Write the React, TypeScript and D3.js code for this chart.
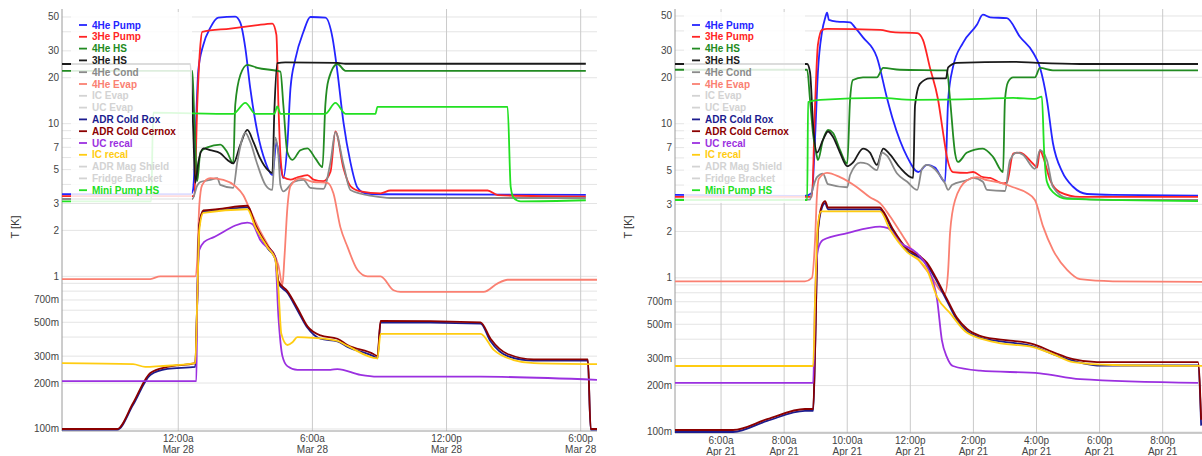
import React from "react";
import * as d3 from "d3";

// [hours from midnight of the labelled day, temperature in K]
type Pt = [number, number];

const seriesNames = [
  "4He Pump", "3He Pump", "4He HS", "3He HS", "4He Cond", "4He Evap", "IC Evap", "UC Evap",
  "ADR Cold Rox", "ADR Cold Cernox", "UC recal", "IC recal", "ADR Mag Shield", "Fridge Bracket", "Mini Pump HS",
];
const seriesColors = [
  "#2424ff", "#ff2424", "#228b22", "#1a1a1a", "#8a8a8a", "#fa8072", "#d3d3d3", "#d3d3d3",
  "#1c1c8f", "#8b0000", "#9b30e0", "#ffcc11", "#d3d3d3", "#d3d3d3", "#22e022",
];

const yTickValues = [0.1, 0.2, 0.3, 0.5, 0.7, 1, 2, 3, 5, 7, 10, 20, 30, 50];
const marTickHours = [0, 6, 12, 18];
const aprTickHours = [6, 8, 10, 12, 14, 16, 18, 20];

// ---- Mar 28 ----
const mar_pump4He: Pt[] = [[-5.2,3.45],[0.54,3.45],[0.66,3.68],[0.9,22.5],[1.12,32.8],[1.43,42.4],[1.79,49.5],[2.55,50.3],[2.78,45.7],[3.0,31.3],[3.22,17.1],[3.54,8.8],[3.9,5.6],[4.21,4.6],[4.39,7.5],[4.57,5.4],[4.7,4.4],[4.88,7.3],[5.02,17.1],[5.24,26.6],[5.6,40],[5.91,50],[6.58,49.5],[6.9,36.5],[7.12,21.8],[7.39,10.2],[7.7,5.6],[8.02,3.8],[8.37,3.5],[8.91,3.45],[18.23,3.42]];
const mar_pump3He: Pt[] = [[-5.2,3.35],[0.72,3.35],[0.85,13.3],[0.99,32.8],[1.07,40],[2.33,42],[3.45,44],[4.21,45.3],[4.39,38.2],[4.48,13.3],[4.57,6.2],[4.7,4.45],[5.02,4.3],[5.33,4.45],[5.78,4.6],[6.05,4.3],[6.49,4.2],[6.81,4.85],[7.03,8.9],[7.39,5.1],[7.7,3.9],[8.15,3.6],[9.05,3.5],[9.49,3.65],[13.84,3.65],[14.29,3.4],[18.23,3.33]];
const mar_hs4He: Pt[] = [[-5.2,22.2],[0.63,22.2],[0.72,10.6],[0.85,4.2],[0.99,6.5],[1.3,7.0],[1.88,7.3],[2.19,6.5],[2.46,5.5],[2.55,13.3],[2.78,20.9],[3.09,24.3],[3.54,23.2],[4.57,21.9],[4.7,13.3],[4.88,6.5],[5.11,5.8],[5.46,6.7],[5.78,6.9],[6.14,5.9],[6.45,5.2],[6.58,13.3],[6.72,19.4],[7.12,24.6],[7.48,22.2],[18.23,22.2]];
const mar_hs3He: Pt[] = [[-5.2,24.6],[0.54,24.6],[0.67,9.1],[0.76,4.1],[0.9,5.6],[1.12,6.9],[1.43,6.7],[1.88,6.4],[2.19,5.8],[2.46,5.5],[2.78,7.3],[3.09,9.1],[3.36,7.6],[3.67,5.9],[3.99,5.0],[4.21,4.75],[4.3,12.3],[4.43,24.9],[4.79,25.2],[7.12,25.0],[7.48,24.7],[18.23,24.7]];
const mar_cond4He: Pt[] = [[-5.2,3.21],[0.63,3.21],[0.85,3.94],[0.99,4.15],[1.43,4.28],[1.75,4.4],[1.88,3.97],[2.46,3.8],[2.64,5.6],[3.0,8.7],[3.22,7.6],[3.54,5.4],[3.9,3.97],[4.21,3.68],[4.34,8.1],[4.48,6.2],[4.57,3.97],[4.7,3.6],[5.15,4.15],[5.6,4.28],[5.91,3.8],[6.49,3.74],[6.81,5.6],[7.03,8.8],[7.39,5.4],[7.7,3.68],[8.73,3.35],[9.49,3.26],[18.23,3.26]];
const mar_evap4He: Pt[] = [[-5.2,0.96],[-1.25,0.96],[-0.81,1.0],[0.76,1.0],[0.85,1.28],[0.94,2.9],[1.07,3.97],[1.43,4.4],[2.02,4.28],[2.55,3.9],[2.91,3.4],[3.22,2.7],[3.67,1.97],[4.12,1.5],[4.48,1.18],[4.66,0.88],[4.75,1.33],[4.88,2.8],[5.02,3.9],[5.46,4.4],[6.05,4.15],[6.67,4.1],[6.94,3.5],[7.25,2.1],[7.57,1.56],[8.02,1.1],[8.46,1.0],[9.05,1.0],[9.63,0.81],[9.94,0.79],[13.66,0.79],[14.29,0.9],[14.73,0.95],[18.73,0.95]];
const mar_rox: Pt[] = [[-5.2,0.099],[-2.73,0.099],[-2.02,0.144],[-1.25,0.226],[-0.49,0.248],[0.76,0.255],[0.85,0.7],[0.94,2.15],[1.12,2.65],[1.75,2.7],[3.09,2.83],[3.45,2.14],[3.99,1.53],[4.34,1.3],[4.48,0.9],[4.88,0.78],[5.33,0.6],[5.78,0.46],[6.36,0.39],[7.12,0.375],[7.57,0.345],[8.73,0.3],[8.91,0.29],[9.05,0.5],[13.52,0.49],[13.97,0.375],[14.73,0.3],[15.9,0.28],[18.32,0.28],[18.45,0.099],[18.73,0.099]];
const mar_cernox: Pt[] = [[-5.2,0.1],[-2.73,0.1],[-2.02,0.148],[-1.25,0.233],[-0.49,0.255],[0.76,0.27],[0.85,0.7],[0.94,2.17],[1.12,2.7],[1.75,2.75],[3.09,2.9],[3.45,2.17],[3.99,1.58],[4.34,1.34],[4.48,0.93],[4.88,0.8],[5.33,0.62],[5.78,0.47],[6.36,0.41],[7.12,0.39],[7.57,0.355],[8.73,0.31],[8.91,0.3],[9.05,0.51],[13.52,0.5],[13.97,0.39],[14.73,0.31],[15.9,0.286],[18.32,0.286],[18.45,0.1],[18.73,0.1]];
const mar_ucRecal: Pt[] = [[-5.2,0.206],[0.81,0.206],[0.85,0.7],[0.94,1.49],[1.16,1.68],[1.57,1.8],[3.09,2.25],[3.31,2.2],[3.67,1.73],[4.34,1.32],[4.48,0.545],[4.66,0.3],[4.88,0.258],[5.33,0.244],[6.81,0.244],[7.12,0.247],[8.15,0.226],[8.91,0.22],[13.52,0.22],[18.73,0.21]];
const mar_icRecal: Pt[] = [[-5.2,0.27],[-2.02,0.266],[-1.48,0.255],[-0.81,0.258],[0.76,0.27],[0.85,0.7],[0.94,2.0],[1.12,2.6],[3.09,2.75],[3.45,2.1],[3.99,1.55],[4.34,1.29],[4.48,0.82],[4.61,0.42],[4.88,0.355],[5.11,0.37],[5.33,0.4],[6.05,0.395],[7.12,0.377],[7.57,0.35],[8.91,0.29],[9.05,0.42],[13.52,0.42],[14.11,0.33],[15.0,0.283],[15.9,0.27],[18.73,0.266]];
const mar_miniPump: Pt[] = [[-5.2,3.1],[-1.21,3.1],[-1.12,11.8],[2.46,11.6],[3.0,13.7],[3.45,11.6],[4.3,11.6],[4.43,13.0],[4.57,11.6],[6.58,11.6],[7.03,13.7],[7.48,11.6],[8.82,11.6],[8.91,12.9],[14.73,12.9],[14.87,3.85],[15.0,3.27],[15.32,3.1],[18.23,3.15]];

// ---- Apr 21 ----
const apr_pump4He: Pt[] = [[4.54,3.45],[8.66,3.4],[8.88,3.55],[8.98,8.1],[9.07,21.6],[9.2,39.4],[9.3,48.6],[9.36,52.5],[9.42,47.2],[9.68,46],[10.09,45.5],[10.25,42],[10.5,36.3],[10.94,27],[11.26,14.7],[11.45,10.6],[11.9,6.1],[12.25,4.86],[12.53,5.4],[12.78,5.2],[13.1,4.2],[13.2,14.3],[13.35,23.2],[13.67,33.5],[14.11,43.8],[14.3,51],[14.53,49],[15.06,48.4],[15.48,36.5],[15.89,29],[16.11,23.2],[16.33,14.3],[16.52,7.5],[16.81,4.9],[17.16,3.9],[17.6,3.5],[18.42,3.45],[21.12,3.42]];
const apr_pump3He: Pt[] = [[4.54,3.35],[8.88,3.35],[8.98,13.2],[9.07,32.5],[9.2,40.6],[9.36,41.2],[11.04,40.6],[11.45,39.3],[12.22,38.7],[12.4,35],[12.62,23.2],[12.88,14.3],[13.04,8.7],[13.16,6.1],[13.35,4.86],[13.8,4.8],[13.99,4.86],[14.3,4.5],[14.53,4.45],[14.94,4.1],[15.06,4.15],[15.26,6.4],[15.48,6.5],[15.89,5.5],[16.02,5.2],[16.11,6.75],[16.21,6.1],[16.43,4.32],[16.74,3.6],[17.38,3.35],[21.12,3.35]];
const apr_hs4He: Pt[] = [[4.54,22.4],[8.73,22.4],[8.82,14.3],[8.92,8.46],[9.04,6.1],[9.07,5.8],[9.23,7.85],[9.39,9.12],[9.55,8.7],[9.77,6.76],[10.0,5.5],[10.09,14.3],[10.18,19.2],[10.5,20],[10.94,20],[11.14,23],[11.67,22.4],[13.16,22.2],[13.26,14.3],[13.42,6.4],[13.51,5.65],[13.8,6.5],[14.3,6.9],[14.62,6.1],[14.94,4.86],[15.0,14.3],[15.1,18.7],[15.26,20],[15.95,20],[16.11,23],[16.52,22.2],[21.12,22.2]];
const apr_hs3He: Pt[] = [[4.54,24.4],[8.73,24.4],[8.82,21.6],[8.92,9.7],[9.04,6.5],[9.23,7.85],[9.39,8.9],[9.55,8.2],[9.77,6.5],[10.0,5.3],[10.18,5.6],[10.5,6.9],[10.72,6.5],[10.94,5.4],[11.14,6.9],[11.36,6.3],[11.67,5.2],[12.09,4.45],[12.15,13.2],[12.31,18.2],[12.62,19.7],[13.13,19.7],[13.2,23.2],[13.48,24.8],[15.26,25.2],[16.02,24.8],[17.38,24.4],[21.12,24.4]];
const apr_cond4He: Pt[] = [[4.54,3.22],[8.82,3.22],[8.88,3.6],[9.04,4.5],[9.23,4.75],[9.39,4.05],[10.0,3.87],[10.09,4.65],[10.41,5.6],[10.63,5.5],[10.94,5.0],[11.1,6.5],[11.26,6.2],[11.58,4.75],[11.9,4.2],[12.22,3.72],[12.37,5.1],[12.53,5.4],[12.88,4.8],[13.1,4.1],[13.2,3.72],[13.32,4.0],[13.8,4.3],[13.99,4.45],[14.3,4.2],[14.43,3.72],[15.0,3.66],[15.16,5.8],[15.38,6.5],[15.57,6.3],[15.95,5.1],[16.11,6.75],[16.33,5.8],[16.52,3.9],[16.97,3.3],[18.42,3.2],[21.12,3.2]];
const apr_evap4He: Pt[] = [[4.54,0.95],[8.66,0.95],[8.88,1.0],[8.98,1.76],[9.04,3.45],[9.1,4.4],[9.36,4.8],[9.77,4.5],[10.31,3.87],[10.72,3.33],[11.04,3.05],[11.36,2.5],[11.67,2.0],[12.15,1.41],[12.62,1.05],[13.1,0.79],[13.2,1.125],[13.26,1.97],[13.42,3.2],[13.8,4.3],[14.11,4.5],[14.43,4.3],[14.84,4.15],[15.26,3.87],[15.7,3.55],[15.95,3.2],[16.21,2.15],[16.52,1.52],[16.97,1.125],[17.38,0.98],[18.42,0.95],[21.5,0.94]];
const apr_rox: Pt[] = [[4.54,0.1],[6.38,0.1],[7.46,0.118],[8.66,0.137],[8.92,0.137],[8.98,0.33],[9.07,1.99],[9.2,2.86],[9.3,3.05],[9.39,2.78],[11.04,2.78],[11.14,2.63],[11.45,2.0],[11.9,1.49],[12.31,1.35],[12.53,1.21],[12.78,1.0],[13.16,0.71],[13.48,0.533],[13.8,0.45],[14.21,0.41],[14.75,0.39],[15.26,0.378],[15.89,0.36],[16.52,0.32],[17.16,0.29],[17.92,0.27],[21.12,0.27],[21.22,0.11]];
const apr_cernox: Pt[] = [[4.54,0.103],[6.38,0.103],[7.46,0.121],[8.66,0.141],[8.92,0.141],[8.98,0.34],[9.07,2.05],[9.2,2.97],[9.3,3.15],[9.39,2.86],[11.04,2.86],[11.14,2.7],[11.45,2.07],[11.9,1.54],[12.31,1.38],[12.53,1.25],[12.78,1.03],[13.16,0.73],[13.48,0.55],[13.8,0.466],[14.21,0.42],[14.75,0.4],[15.26,0.39],[15.89,0.372],[16.52,0.33],[17.16,0.297],[17.92,0.284],[21.12,0.284],[21.22,0.12]];
const apr_ucRecal: Pt[] = [[4.54,0.208],[8.92,0.208],[8.98,0.72],[9.07,1.52],[9.23,1.76],[10.0,1.95],[11.04,2.15],[11.29,2.1],[11.67,1.7],[12.22,1.44],[12.53,1.18],[12.85,0.72],[13.0,0.395],[13.16,0.306],[13.35,0.268],[14.21,0.25],[16.11,0.24],[17.38,0.22],[21.12,0.208]];
const apr_icRecal: Pt[] = [[4.54,0.268],[8.92,0.268],[8.98,0.72],[9.07,2.2],[9.17,2.7],[11.04,2.7],[11.36,2.05],[11.9,1.47],[12.31,1.28],[12.53,1.125],[12.85,0.75],[13.26,0.59],[13.8,0.44],[14.75,0.38],[15.89,0.355],[16.52,0.32],[17.16,0.284],[18.42,0.272],[21.5,0.268]];
const apr_miniPump: Pt[] = [[4.54,3.2],[8.73,3.2],[8.76,13.8],[9.14,14.3],[11.04,14.7],[12.09,14.3],[14.21,14.5],[15.26,14.7],[15.95,14.5],[16.17,15.0],[16.24,6.76],[16.33,4.2],[16.52,3.6],[16.97,3.25],[21.12,3.15]];

const marData: Record<string, Pt[]> = {
  "4He Pump": mar_pump4He, "3He Pump": mar_pump3He, "4He HS": mar_hs4He, "3He HS": mar_hs3He,
  "4He Cond": mar_cond4He, "4He Evap": mar_evap4He, "ADR Cold Rox": mar_rox, "ADR Cold Cernox": mar_cernox,
  "UC recal": mar_ucRecal, "IC recal": mar_icRecal, "Mini Pump HS": mar_miniPump,
};
const aprData: Record<string, Pt[]> = {
  "4He Pump": apr_pump4He, "3He Pump": apr_pump3He, "4He HS": apr_hs4He, "3He HS": apr_hs3He,
  "4He Cond": apr_cond4He, "4He Evap": apr_evap4He, "ADR Cold Rox": apr_rox, "ADR Cold Cernox": apr_cernox,
  "UC recal": apr_ucRecal, "IC recal": apr_icRecal, "Mini Pump HS": apr_miniPump,
};

const FONT = "'Liberation Sans', Arial, Helvetica, sans-serif";

const fmtDay = d3.timeFormat("%b %-d");
const fmtTime = (d: Date) => {
  const h = d.getHours();
  const h12 = h % 12 === 0 ? 12 : h % 12;
  return `${h12}:${d3.timeFormat("%M")(d)}${h < 12 ? "a" : "p"}`;
};
const fmtY = (v: number) => (v < 1 ? `${Math.round(v * 1000)}m` : `${v}`);

function Panel({ id, day, hourDomain, xRange, yDomain, yRange, tickHours, data, labelShift }: any) {
  const t0 = day.getTime();
  const toDate = (h: number) => new Date(t0 + h * 3600000);
  const x = d3.scaleTime().domain(hourDomain.map(toDate)).range(xRange);
  const y = d3.scaleLog().domain(yDomain).range(yRange);
  const line = d3
    .line<Pt>()
    .x((d) => x(toDate(d[0])))
    .y((d) => y(d[1]))
    .curve(d3.curveMonotoneX);

  const [x0, x1] = xRange;
  const [yb, yt] = yRange;
  const gridVals = y.ticks();
  const legX = x0 + 9;

  return (
    <g>
      <defs>
        <clipPath id={id}>
          <rect x={x0} y={yt} width={x1 - x0} height={yb - yt} />
        </clipPath>
      </defs>
      {/* horizontal grid */}
      {gridVals.map((v) => (
        <line key={"h" + v} x1={x0} x2={x1} y1={y(v)} y2={y(v)} stroke="#e4e4e4" strokeWidth={1} />
      ))}
      {/* vertical grid */}
      {tickHours.map((h: number) => (
        <line key={"v" + h} x1={x(toDate(h))} x2={x(toDate(h))} y1={yt} y2={yb} stroke="#cacaca" strokeWidth={1} />
      ))}
      {/* axes */}
      <line x1={x0} x2={x0} y1={yt} y2={yb} stroke="#9a9a9a" strokeWidth={1} />
      <line x1={x0} x2={x1} y1={yb} y2={yb} stroke="#9a9a9a" strokeWidth={1} />

      {/* series */}
      <g clipPath={`url(#${id})`}>
        {seriesNames.map((name, i) =>
          data[name] ? (
            <path key={name} d={line(data[name]) || ""} fill="none" stroke={seriesColors[i]} strokeWidth={1.8} />
          ) : null
        )}
      </g>

      {/* y tick labels */}
      {yTickValues.map((v) => (
        <text key={"yl" + v} x={x0 - 3} y={y(v)} dy="0.35em" textAnchor="end" fontSize={10} fill="#444" fontFamily={FONT}>
          {fmtY(v)}
        </text>
      ))}
      {/* x tick labels */}
      {tickHours.map((h: number) => (
        <g key={"xl" + h}>
          <text x={x(toDate(h))} y={442 + labelShift} textAnchor="middle" fontSize={10} fill="#444" fontFamily={FONT}>
            {fmtTime(toDate(h))}
          </text>
          <text x={x(toDate(h))} y={453 + labelShift} textAnchor="middle" fontSize={10} fill="#444" fontFamily={FONT}>
            {fmtDay(toDate(h))}
          </text>
        </g>
      ))}
      <text
        transform={`translate(${x0 - 47},227) rotate(-90)`}
        textAnchor="middle"
        dy="0.35em"
        fontSize={11}
        fill="#333"
        fontFamily={FONT}
      >
        T [K]
      </text>

      {/* legend */}
      <rect x={legX} y={12} width={121} height={191} fill="#fff" fillOpacity={0.85} />
      {seriesNames.map((name, i) => {
        const cy = 25 + i * 11.8;
        return (
          <g key={"lg" + name}>
            <line x1={legX + 8} x2={legX + 16} y1={cy} y2={cy} stroke={seriesColors[i]} strokeWidth={1.8} />
            <text x={legX + 21} y={cy} dy="0.35em" fontSize={10} fontWeight="bold" fill={seriesColors[i]} fontFamily={FONT}>
              {name}
            </text>
          </g>
        );
      })}
    </g>
  );
}

export default function App() {
  return (
    <svg width={1202} height={456} style={{ position: "absolute", left: 0, top: 0, background: "#fff" }}>
      <Panel
        id="clipMar"
        day={new Date(2024, 2, 28)}
        hourDomain={[-5.2, 18.73]}
        xRange={[62, 597]}
        yDomain={[0.097, 56.4]}
        yRange={[431, 9]}
        tickHours={marTickHours}
        data={marData}
        labelShift={0}
      />
      <Panel
        id="clipApr"
        day={new Date(2024, 3, 21)}
        hourDomain={[4.54, 21.5]}
        xRange={[675, 1210]}
        yDomain={[0.0985, 55.5]}
        yRange={[433, 9]}
        tickHours={aprTickHours}
        data={aprData}
        labelShift={2}
      />
    </svg>
  );
}
